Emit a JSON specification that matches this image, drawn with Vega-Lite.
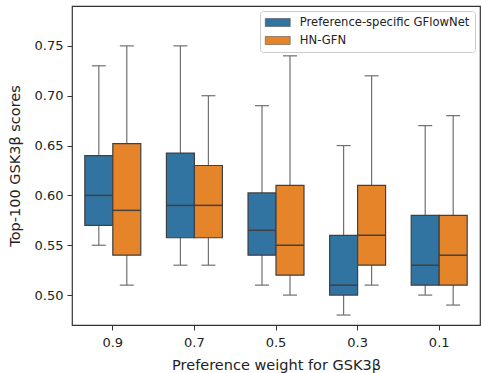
{
  "$schema": "https://vega.github.io/schema/vega-lite/v6.json",
  "width": 408,
  "height": 319,
  "autosize": {"type": "none"},
  "padding": {"left": 72, "top": 6, "right": 1, "bottom": 48},
  "config": {
    "font": "DejaVu Sans",
    "view": {"stroke": "#333333", "strokeWidth": 1.2},
    "axis": {"grid": false, "domain": false, "tickColor": "#333333", "tickSize": 5, "labelColor": "#222222", "titleColor": "#222222", "labelFontSize": 13, "titleFontSize": 14.5, "titleFontWeight": "normal"}
  },
  "data": {
    "values": [
      {"pref": "0.9", "method": "Preference-specific GFlowNet", "lo": 0.55, "q1": 0.57, "med": 0.60, "q3": 0.64, "hi": 0.73},
      {"pref": "0.9", "method": "HN-GFN", "lo": 0.51, "q1": 0.54, "med": 0.585, "q3": 0.652, "hi": 0.75},
      {"pref": "0.7", "method": "Preference-specific GFlowNet", "lo": 0.53, "q1": 0.5575, "med": 0.59, "q3": 0.6425, "hi": 0.75},
      {"pref": "0.7", "method": "HN-GFN", "lo": 0.53, "q1": 0.5575, "med": 0.59, "q3": 0.63, "hi": 0.70},
      {"pref": "0.5", "method": "Preference-specific GFlowNet", "lo": 0.51, "q1": 0.54, "med": 0.565, "q3": 0.6025, "hi": 0.69},
      {"pref": "0.5", "method": "HN-GFN", "lo": 0.50, "q1": 0.52, "med": 0.55, "q3": 0.61, "hi": 0.74},
      {"pref": "0.3", "method": "Preference-specific GFlowNet", "lo": 0.48, "q1": 0.50, "med": 0.51, "q3": 0.56, "hi": 0.65},
      {"pref": "0.3", "method": "HN-GFN", "lo": 0.51, "q1": 0.53, "med": 0.56, "q3": 0.61, "hi": 0.72},
      {"pref": "0.1", "method": "Preference-specific GFlowNet", "lo": 0.50, "q1": 0.51, "med": 0.53, "q3": 0.58, "hi": 0.67},
      {"pref": "0.1", "method": "HN-GFN", "lo": 0.49, "q1": 0.51, "med": 0.54, "q3": 0.58, "hi": 0.68}
    ]
  },
  "encoding": {
    "x": {
      "field": "pref", "type": "nominal", "sort": ["0.9", "0.7", "0.5", "0.3", "0.1"],
      "scale": {"paddingInner": 0.314, "paddingOuter": 0.157},
      "axis": {"labelAngle": 0, "title": "Preference weight for GSK3β", "titlePadding": 9, "labelPadding": 6}
    },
    "xOffset": {
      "field": "method", "type": "nominal", "sort": ["Preference-specific GFlowNet", "HN-GFN"],
      "scale": {"paddingInner": 0, "paddingOuter": 0}
    }
  },
  "layer": [
    {
      "mark": {"type": "rule", "color": "#707070", "strokeWidth": 1.2},
      "encoding": {
        "y": {"field": "lo", "type": "quantitative", "scale": {"domain": [0.47, 0.79], "nice": false, "zero": false},
          "axis": {"values": [0.5, 0.55, 0.6, 0.65, 0.7, 0.75], "format": ".2f", "title": "Top-100 GSK3β scores", "titlePadding": 12, "labelPadding": 4}},
        "y2": {"field": "hi"}
      }
    },
    {
      "mark": {"type": "bar", "stroke": "#404040", "strokeWidth": 1.2},
      "encoding": {
        "y": {"field": "q1", "type": "quantitative"},
        "y2": {"field": "q3"},
        "color": {
          "field": "method", "type": "nominal", "sort": ["Preference-specific GFlowNet", "HN-GFN"],
          "scale": {"domain": ["Preference-specific GFlowNet", "HN-GFN"], "range": ["#3274a1", "#e6842a"]},
          "legend": {
            "title": null, "orient": "top-right", "offset": 5, "labelLimit": 0,
            "fillColor": "white", "strokeColor": "#cccccc", "cornerRadius": 3, "padding": 5,
            "symbolType": "M-2,-0.64H2V0.64H-2Z", "symbolSize": 156, "symbolOffset": 6.25, "symbolStrokeColor": "#404040", "symbolStrokeWidth": 0.5,
            "labelFontSize": 11.6, "labelColor": "#222222", "rowPadding": 5, "labelOffset": 15.5
          }
        }
      }
    },
    {
      "mark": {"type": "tick", "color": "#404040", "thickness": 1.5, "size": 28, "opacity": 1},
      "encoding": {"y": {"field": "med", "type": "quantitative"}}
    },
    {
      "mark": {"type": "tick", "color": "#707070", "thickness": 1.2, "size": 14, "opacity": 1},
      "encoding": {"y": {"field": "lo", "type": "quantitative"}}
    },
    {
      "mark": {"type": "tick", "color": "#707070", "thickness": 1.2, "size": 14, "opacity": 1},
      "encoding": {"y": {"field": "hi", "type": "quantitative"}}
    }
  ]
}
